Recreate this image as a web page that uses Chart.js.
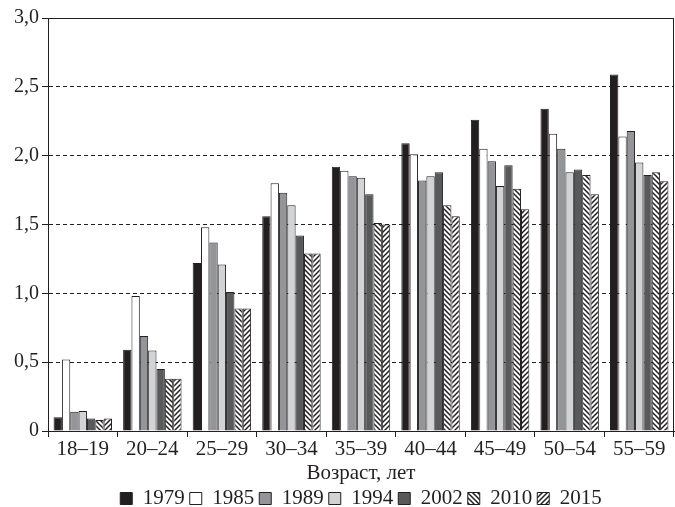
<!DOCTYPE html>
<html>
<head>
<meta charset="utf-8">
<script src="https://cdn.jsdelivr.net/npm/chart.js@4/dist/chart.umd.min.js"></script>
<style>
  html, body { margin: 0; padding: 0; background: #fff; }
  #wrap { width: 675px; height: 507px; }
</style>
</head>
<body>
<div id="wrap"><canvas id="chart"></canvas></div>
<script>
// Age groups on the x axis
var ageGroups = ['18–19', '20–24', '25–29', '30–34', '35–39', '40–44', '45–49', '50–54', '55–59'];
var years = ['1979', '1985', '1989', '1994', '2002', '2010', '2015'];

// values per survey year, one per age group
var v1979 = [0.10, 0.59, 1.22, 1.56, 1.92, 2.09, 2.26, 2.34, 2.59];
var v1985 = [0.52, 0.98, 1.48, 1.80, 1.89, 2.01, 2.05, 2.16, 2.14];
var v1989 = [0.14, 0.69, 1.37, 1.73, 1.85, 1.82, 1.96, 2.05, 2.18];
var v1994 = [0.145, 0.585, 1.21, 1.64, 1.84, 1.85, 1.78, 1.88, 1.95];
var v2002 = [0.09, 0.45, 1.01, 1.42, 1.72, 1.88, 1.93, 1.90, 1.86];
var v2010 = [0.08, 0.38, 0.89, 1.29, 1.51, 1.64, 1.76, 1.86, 1.88];
var v2015 = [0.09, 0.38, 0.89, 1.29, 1.50, 1.56, 1.61, 1.72, 1.815];

var yTicks = [0, 0.5, 1, 1.5, 2, 2.5, 3];

var INK = '#231f20';
var FONT = "'Liberation Serif', 'Times New Roman', serif";

function hatch(forward) {
    var s = 5;
    var c = document.createElement('canvas');
    c.width = s; c.height = s;
    var g = c.getContext('2d');
    g.fillStyle = '#fff';
    g.fillRect(0, 0, s, s);
    g.strokeStyle = INK;
    g.lineWidth = 1.5;
    g.beginPath();
    if (forward) {
        g.moveTo(-1, s + 1); g.lineTo(s + 1, -1);
        g.moveTo(-1, 1); g.lineTo(1, -1);
        g.moveTo(s - 1, s + 1); g.lineTo(s + 1, s - 1);
    } else {
        g.moveTo(-1, -1); g.lineTo(s + 1, s + 1);
        g.moveTo(s - 1, -1); g.lineTo(s + 1, 1);
        g.moveTo(-1, s - 1); g.lineTo(1, s + 1);
    }
    g.stroke();
    return g.createPattern(c, 'repeat');
}

var fills = [INK, '#ffffff', '#939598', '#d1d3d4', '#58595b', hatch(false), hatch(true)];
var series = [v1979, v1985, v1989, v1994, v2002, v2010, v2015];

var datasets = years.map(function (y, i) {
    return {
        label: y,
        data: series[i],
        backgroundColor: fills[i],
        borderColor: INK,
        borderWidth: 1,
        barPercentage: 1,
        categoryPercentage: 0.84
    };
});

var framePlugin = {
    id: 'frame',
    afterDraw: function (chart) {
        var a = chart.chartArea;
        var ctx = chart.ctx;
        ctx.save();
        ctx.strokeStyle = INK;
        ctx.lineWidth = 1;
        ctx.strokeRect(Math.round(a.left) + 0.5, Math.round(a.top) + 0.5,
            Math.round(a.right - a.left) - 1, Math.round(a.bottom - a.top));
        ctx.restore();
    }
};

new Chart(document.getElementById('chart'), {
    type: 'bar',
    data: { labels: ageGroups, datasets: datasets },
    plugins: [framePlugin],
    options: {
        responsive: true,
        maintainAspectRatio: false,
        animation: false,
        layout: { padding: { top: 18, right: 1, left: 0, bottom: -12 } },
        plugins: {
            tooltip: { enabled: false },
            legend: {
                position: 'bottom',
                fullSize: false,
                labels: {
                    color: INK,
                    font: { family: FONT, size: 21, lineHeight: 1 },
                    boxWidth: 12,
                    boxHeight: 12,
                    padding: 5
                }
            }
        },
        scales: {
            x: {
                grid: { display: true, drawOnChartArea: false, offset: true, tickLength: 6, color: INK },
                border: { color: INK, width: 1 },
                ticks: { color: INK, font: { family: FONT, size: 21, lineHeight: 1 }, padding: 2, maxRotation: 0 },
                title: {
                    display: true, text: 'Возраст, лет', color: INK,
                    font: { family: FONT, size: 21, lineHeight: 1 },
                    padding: { top: 1, bottom: -1 }
                }
            },
            y: {
                min: 0,
                max: 3,
                afterFit: function (scale) { scale.width = 48; },
                afterBuildTicks: function (scale) {
                    scale.ticks = yTicks.map(function (v) { return { value: v }; });
                },
                grid: { color: INK, tickLength: 6, tickBorderDash: [] },
                border: { color: INK, width: 1, dash: [4, 3] },
                ticks: {
                    color: INK,
                    font: { family: FONT, size: 20 },
                    padding: 3,
                    callback: function (v) { return v === 0 ? '0' : v.toFixed(1).replace('.', ','); }
                }
            }
        }
    }
});
</script>
</body>
</html>
